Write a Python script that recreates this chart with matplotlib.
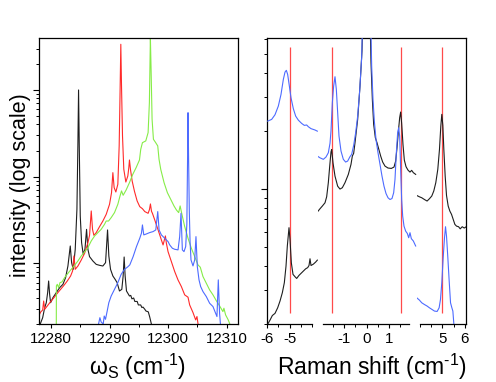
import numpy as np
import matplotlib
matplotlib.use('Agg')
import matplotlib.pyplot as plt
from matplotlib.ticker import FixedLocator, NullFormatter, LogLocator

plt.rcParams['font.family'] = ['Liberation Sans', 'DejaVu Sans']
plt.rcParams['mathtext.fontset'] = 'custom'
plt.rcParams['mathtext.rm'] = 'Liberation Sans'
plt.rcParams['mathtext.it'] = 'Liberation Sans:italic'
plt.rcParams['mathtext.bf'] = 'Liberation Sans:bold'
plt.rcParams['axes.unicode_minus'] = False

# ---------------- data: left panel (omega_S in cm^-1, log10 intensity) ----------------
black_x = [12278.07, 12278.53, 12278.87, 12279.15, 12279.38, 12279.55, 12279.72, 12279.89, 12280.29,
           12280.86, 12281.43, 12282.00, 12282.45, 12282.85, 12283.25, 12283.48, 12283.76, 12284.10,
           12284.39, 12284.56, 12284.67, 12284.79, 12284.96, 12285.19, 12285.47, 12285.76, 12286.04,
           12286.27, 12286.55, 12287.12, 12287.69, 12288.26, 12288.83, 12289.29, 12289.63, 12289.85,
           12290.14, 12290.54, 12290.93, 12291.27, 12291.67, 12292.07, 12292.30, 12292.47, 12292.64,
           12292.87, 12293.38, 12293.60, 12293.80, 12294.10, 12294.30, 12294.70, 12294.90, 12295.30,
           12295.50, 12295.70, 12296.00, 12296.20, 12296.60, 12296.85, 12297.13]
black_log = [0.292, 0.373, 0.488, 0.546, 0.662, 0.796, 0.642, 0.546, 0.604,
             0.662, 0.719, 0.758, 0.835, 0.969, 1.200, 1.008, 0.931, 1.161,
             1.623, 2.392, 3.000, 2.354, 1.546, 1.238, 1.104, 1.161, 1.392,
             1.161, 1.077, 1.027, 0.988, 0.977, 0.969, 1.008, 1.385, 1.085,
             0.931, 0.854, 0.815, 0.777, 0.681, 0.700, 0.854, 1.073, 0.854,
             0.681, 0.623, 0.630, 0.590, 0.600, 0.560, 0.560, 0.520, 0.520,
             0.490, 0.495, 0.470, 0.450, 0.440, 0.380, 0.300]

red_x = [12277.84, 12278.19, 12278.53, 12278.70, 12278.87, 12279.32, 12279.89, 12280.46, 12281.03,
         12281.60, 12282.17, 12282.74, 12283.31, 12283.65, 12283.88, 12284.10, 12284.56, 12285.13,
         12285.70, 12286.27, 12286.55, 12286.84, 12287.06, 12287.29, 12287.69, 12288.26, 12288.83,
         12289.40, 12289.97, 12290.31, 12290.54, 12290.76, 12291.05, 12291.39, 12291.62, 12291.79,
         12291.90, 12292.02, 12292.19, 12292.41, 12292.76, 12293.10, 12293.27, 12293.38, 12293.55,
         12293.84, 12294.24, 12294.69, 12295.14, 12295.60, 12296.00, 12296.57, 12296.80, 12296.97,
         12297.15, 12297.31, 12297.71, 12298.28, 12298.84, 12299.13, 12299.53, 12299.70, 12299.98,
         12300.55, 12301.12, 12301.69, 12302.26, 12302.83, 12303.40, 12303.68, 12304.25, 12304.71,
         12304.93, 12305.16]
red_log = [0.392, 0.438, 0.461, 0.565, 0.469, 0.508, 0.558, 0.604, 0.654,
           0.700, 0.746, 0.796, 0.854, 0.912, 1.085, 0.931, 0.969, 1.038,
           1.115, 1.238, 1.323, 1.604, 1.392, 1.323, 1.354, 1.423, 1.488,
           1.565, 1.681, 1.815, 2.046, 1.873, 1.823, 1.912, 2.354, 3.046,
           3.527, 3.046, 2.469, 2.085, 1.938, 2.008, 2.104, 2.192, 2.085,
           1.950, 1.830, 1.720, 1.654, 1.630, 1.597, 1.577, 1.620, 1.685,
           1.600, 1.577, 1.500, 1.385, 1.270, 1.212, 1.316, 1.231, 1.135,
           1.020, 0.905, 0.808, 0.732, 0.636, 0.609, 0.520, 0.432, 0.347,
           0.386, 0.278]

green_x = [12280.86, 12280.88, 12281.03, 12281.26, 12281.49, 12281.83, 12282.28, 12282.85, 12283.42,
           12283.99, 12284.56, 12285.13, 12285.70, 12286.27, 12286.84, 12287.41, 12287.98, 12288.54,
           12289.11, 12289.40, 12289.80, 12290.25, 12290.82, 12291.39, 12291.73, 12292.02, 12292.30,
           12292.81, 12293.38, 12293.95, 12294.52, 12295.09, 12295.31, 12295.60, 12296.17, 12296.57,
           12296.79, 12296.91, 12296.96, 12297.08, 12297.25, 12297.48, 12297.87, 12298.22, 12298.44,
           12298.73, 12299.30, 12299.87, 12300.44, 12301.00, 12301.41, 12301.80, 12302.05, 12302.32,
           12302.83, 12303.40, 12303.97, 12304.54, 12305.10, 12305.50, 12305.96, 12306.53, 12307.10,
           12307.67, 12308.23, 12308.80, 12309.37, 12309.54, 12309.83, 12310.28, 12310.68]
green_log = [0.290, 0.740, 0.758, 0.719, 0.777, 0.785, 0.835, 0.885, 0.931,
             0.977, 1.027, 1.085, 1.131, 1.181, 1.258, 1.315, 1.354, 1.392,
             1.450, 1.488, 1.488, 1.527, 1.585, 1.681, 1.769, 1.835, 1.785,
             1.846, 1.931, 2.027, 2.104, 2.192, 2.315, 2.392, 2.412, 2.508,
             2.854, 3.392, 3.600, 3.238, 2.662, 2.431, 2.392, 2.354, 2.200,
             2.085, 1.931, 1.815, 1.738, 1.662, 1.616, 1.585, 1.662, 1.577,
             1.424, 1.289, 1.174, 1.078, 0.982, 0.955, 0.847, 0.770, 0.693,
             0.636, 0.570, 0.509, 0.443, 0.482, 0.405, 0.347, 0.278]

blue_x = [12288.09, 12288.32, 12288.54, 12288.89, 12289.06, 12289.28, 12289.57, 12289.85, 12290.25,
          12290.82, 12291.39, 12291.96, 12292.53, 12293.10, 12293.44, 12294.01, 12294.58, 12295.14,
          12295.43, 12295.60, 12295.83, 12296.28, 12296.85, 12297.42, 12297.88, 12298.22, 12298.45,
          12298.84, 12299.41, 12299.98, 12300.27, 12300.72, 12301.12, 12301.69, 12301.97, 12302.20,
          12302.43, 12302.71, 12303.00, 12303.20, 12303.32, 12303.40, 12303.50, 12303.62, 12303.75,
          12303.91, 12304.25, 12304.54, 12304.76, 12304.99, 12305.28, 12305.56, 12305.96, 12306.53,
          12307.10, 12307.67, 12308.12, 12308.35, 12308.58, 12308.80, 12308.97]
blue_log = [0.300, 0.373, 0.323, 0.300, 0.392, 0.354, 0.450, 0.546, 0.623,
            0.700, 0.777, 0.873, 0.930, 0.960, 0.982, 1.078, 1.193, 1.289,
            1.347, 1.443, 1.328, 1.339, 1.355, 1.366, 1.385, 1.597, 1.385,
            1.328, 1.289, 1.251, 1.212, 1.174, 1.162, 1.155, 1.308, 1.577,
            1.155, 1.135, 1.193, 1.450, 2.200, 2.738, 2.200, 1.600, 1.250,
            1.039, 0.970, 1.039, 1.308, 0.962, 0.809, 0.732, 0.674, 0.616,
            0.539, 0.501, 0.424, 0.386, 0.809, 0.424, 0.278]

# ---------------- data: right panel (Raman shift in cm^-1, log10 intensity) ----------------
# segment 1 (around -5)
s1_black_x = [-5.983, -5.879, -5.774, -5.655, -5.535, -5.430, -5.326, -5.236, -5.161, -5.102, -5.057,
              -5.027, -4.982, -4.922, -4.847, -4.758, -4.683, -4.578, -4.429, -4.279, -4.190, -4.130,
              -4.085, -4.040, -3.936, -3.831, -3.756]
s1_black_log = [0.300, 0.321, 0.345, 0.356, 0.385, 0.420, 0.463, 0.515, 0.601, 0.705, 0.762,
                0.800, 0.739, 0.618, 0.558, 0.546, 0.537, 0.553, 0.570, 0.587, 0.593, 0.604,
                0.639, 0.604, 0.611, 0.622, 0.632]
s1_blue_x = [-5.983, -5.804, -5.655, -5.505, -5.386, -5.281, -5.206, -5.146, -5.087, -5.012, -4.937,
             -4.832, -4.728, -4.608, -4.459, -4.339, -4.235, -4.160, -4.040, -3.861, -3.756]
s1_blue_log = [1.352, 1.361, 1.385, 1.430, 1.490, 1.568, 1.606, 1.615, 1.594, 1.534, 1.473,
               1.416, 1.378, 1.357, 1.340, 1.330, 1.332, 1.323, 1.313, 1.306, 1.300]
# segment 2 (around 0)
s2_black_x = [-2.204, -2.085, -1.980, -1.861, -1.787, -1.713, -1.653, -1.594, -1.564, -1.504, -1.415,
              -1.296, -1.192, -1.088, -0.969, -0.820, -0.701, -0.641, -0.582, -0.522, -0.403, -0.299,
              -0.210, -0.165, 0.147, 0.192, 0.252, 0.311, 0.386, 0.460, 0.534, 0.624, 0.713, 0.817,
              0.951, 1.100, 1.219, 1.293, 1.353, 1.412, 1.472, 1.516, 1.561, 1.620, 1.680, 1.755,
              1.844, 1.933, 2.007, 2.082, 2.186]
s2_black_log = [0.881, 0.898, 0.912, 0.929, 0.960, 1.033, 1.116, 1.192, 1.205, 1.136, 1.067,
                1.015, 1.000, 1.007, 1.033, 1.076, 1.128, 1.171, 1.185, 1.240, 1.361, 1.534,
                1.715, 1.900, 1.900, 1.655, 1.465, 1.335, 1.266, 1.240, 1.209, 1.171, 1.140, 1.119,
                1.109, 1.107, 1.114, 1.145, 1.214, 1.295, 1.370, 1.399, 1.340, 1.231, 1.150, 1.116,
                1.098, 1.088, 1.097, 1.085, 1.076]
s2_blue_x = [-2.204, -2.085, -1.936, -1.817, -1.713, -1.638, -1.594, -1.534, -1.475, -1.415, -1.355,
             -1.296, -1.237, -1.147, -1.043, -0.939, -0.850, -0.745, -0.671, -0.582, -0.492, -0.403,
             -0.314, -0.225, -0.180, 0.177, 0.222, 0.281, 0.341, 0.415, 0.505, 0.594, 0.683, 0.772,
             0.862, 0.951, 1.040, 1.129, 1.204, 1.263, 1.323, 1.382, 1.427, 1.472, 1.516, 1.561,
             1.606, 1.665, 1.740, 1.814, 1.874, 1.933, 1.993, 2.082, 2.186]
s2_blue_log = [1.171, 1.162, 1.154, 1.166, 1.188, 1.237, 1.301, 1.447, 1.534, 1.582, 1.516,
               1.396, 1.275, 1.197, 1.154, 1.140, 1.145, 1.168, 1.180, 1.226, 1.292, 1.378,
               1.508, 1.680, 1.900, 1.900, 1.637, 1.465, 1.352, 1.257, 1.188, 1.128, 1.067, 1.015,
               0.977, 0.955, 0.946, 0.951, 0.981, 1.050, 1.188, 1.292, 1.318, 1.274, 1.102, 0.946,
               0.860, 0.808, 0.782, 0.770, 0.748, 0.774, 0.743, 0.731, 0.705]
# segment 3 (around +5)
s3_black_x = [3.843, 3.963, 4.069, 4.189, 4.309, 4.414, 4.519, 4.609, 4.699, 4.789, 4.864, 4.924,
              4.969, 5.015, 5.060, 5.120, 5.180, 5.255, 5.330, 5.405, 5.480, 5.555, 5.630, 5.720,
              5.795, 5.885, 5.975, 6.066]
s3_black_log = [0.967, 0.960, 0.955, 0.946, 0.938, 0.950, 0.964, 0.990, 1.033, 1.102, 1.205, 1.326,
                1.387, 1.330, 1.205, 1.067, 0.967, 0.912, 0.886, 0.869, 0.843, 0.817, 0.808, 0.805,
                0.794, 0.805, 0.798, 0.805]
s3_blue_x = [3.843, 3.963, 4.069, 4.189, 4.309, 4.414, 4.534, 4.639, 4.759, 4.849, 4.909, 4.969,
             5.030, 5.090, 5.135, 5.180, 5.240, 5.300, 5.360, 5.420, 5.465, 5.510]
s3_blue_log = [0.437, 0.425, 0.411, 0.402, 0.394, 0.385, 0.376, 0.368, 0.366, 0.385, 0.428, 0.515,
               0.644, 0.748, 0.805, 0.756, 0.644, 0.523, 0.411, 0.385, 0.368, 0.300]

raman_lines = [-5.0, -1.55, 1.55, 5.0]
raman_line_span = [2.29, 54.6]

left_xticks = [12280, 12290, 12300, 12310]
left_xminor = [12285, 12295, 12305]
seg_xticks = [[-6, -5], [-1, 0, 1], [5, 6]]
seg_xminor = [[-5.5, -4.5, -4.0], [-1.5, -0.5, 0.5, 1.5], [4.0, 4.5, 5.5]]

# ---------------- styling ----------------
BLACK = '#1e1e1e'
RED = '#ff2a2a'
GREEN = '#86ec48'
BLUE = '#4d6bff'
LW = 0.8
TICK_FS = 10.8
SPINE_LW = 0.9

W, H = 496, 382
fig = plt.figure(figsize=(W / 100, H / 100), dpi=100)


def rect(x0, x1, y0, y1):
    return [x0 / W, 1 - y1 / H, (x1 - x0) / W, (y1 - y0) / H]


def ylog_axis(ax, ylim):
    ax.set_yscale('log')
    ax.set_ylim(*ylim)
    ax.yaxis.set_major_locator(LogLocator(base=10))
    ax.yaxis.set_minor_locator(LogLocator(base=10, subs=np.arange(2, 10)))
    ax.yaxis.set_major_formatter(NullFormatter())
    ax.yaxis.set_minor_formatter(NullFormatter())
    ax.tick_params(axis='y', which='major', direction='out', length=4.2, width=0.8)
    ax.tick_params(axis='y', which='minor', direction='out', length=2.2, width=0.7)


# ---------------- left panel ----------------
axL = fig.add_axes(rect(38.7, 237.7, 38.3, 324))
for xs, ls, c in [(black_x, black_log, BLACK), (red_x, red_log, RED),
                  (green_x, green_log, GREEN), (blue_x, blue_log, BLUE)]:
    axL.plot(xs, 10 ** np.asarray(ls), color=c, lw=LW)
axL.set_xlim(12277.85, 12311.9)
ylog_axis(axL, (10 ** 0.3, 10 ** 3.596))
axL.xaxis.set_major_locator(FixedLocator(left_xticks))
axL.xaxis.set_minor_locator(FixedLocator(left_xminor))
axL.tick_params(axis='x', which='major', direction='out', length=2.6, width=0.8,
                labelsize=TICK_FS, pad=3.0)
axL.tick_params(axis='x', which='minor', direction='out', length=2.0, width=0.7)
for sp in axL.spines.values():
    sp.set_linewidth(SPINE_LW)

# ---------------- right panel ----------------
YR = (2.0, 60.4)
axR = fig.add_axes(rect(267.3, 466.0, 38.3, 324))
ylog_axis(axR, YR)
axR.set_xticks([])
axR.spines['bottom'].set_visible(False)
for sp in axR.spines.values():
    sp.set_linewidth(SPINE_LW)

seg_px = [(267.3, 317.5), (317.5, 416.7), (416.7, 466.0)]
seg_xlim = [(-6.0, -3.749), (-2.196, 2.232), (3.843, 6.054)]
seg_spine = [(-6.0, -4.0), (-1.94, 1.89), (4.0, 6.054)]
seg_data = [
    [(s1_black_x, s1_black_log, BLACK), (s1_blue_x, s1_blue_log, BLUE)],
    [(s2_black_x, s2_black_log, BLACK), (s2_blue_x, s2_blue_log, BLUE)],
    [(s3_black_x, s3_black_log, BLACK), (s3_blue_x, s3_blue_log, BLUE)],
]
for i in range(3):
    ax = fig.add_axes(rect(seg_px[i][0], seg_px[i][1], 38.3, 324))
    ax.patch.set_visible(False)
    ax.set_yscale('log')
    ax.set_ylim(*YR)
    ax.set_xlim(*seg_xlim[i])
    lines_here = [v for v in raman_lines if seg_xlim[i][0] < v < seg_xlim[i][1]]
    ax.vlines(lines_here, raman_line_span[0], raman_line_span[1], color='#ff4a4a', lw=0.9, zorder=1)
    for xs, ls, c in seg_data[i]:
        ax.plot(xs, 10 ** np.asarray(ls), color=c, lw=LW, zorder=2)
    for s in ['top', 'left', 'right']:
        ax.spines[s].set_visible(False)
    ax.spines['bottom'].set_bounds(*seg_spine[i])
    ax.spines['bottom'].set_linewidth(SPINE_LW)
    ax.tick_params(axis='y', which='both', left=False, labelleft=False)
    ax.xaxis.set_major_locator(FixedLocator(seg_xticks[i]))
    ax.xaxis.set_minor_locator(FixedLocator(seg_xminor[i]))
    ax.tick_params(axis='x', which='major', direction='out', length=2.6, width=0.8,
                   labelsize=TICK_FS, pad=3.0)
    ax.tick_params(axis='x', which='minor', direction='out', length=2.0, width=0.7)

# ---------------- labels ----------------
SUP = '$^{\\mathrm{\u20101}}$'
fig.text(21 / W, 1 - 185 / H, 'intensity (log scale)', rotation=90, ha='center', va='center',
         fontsize=15.5)
fig.text(138 / W, 1 - 375 / H, '$\\mathrm{\\omega_S}$ (cm' + SUP + ')', ha='center',
         va='baseline', fontsize=16.5)
fig.text(371.5 / W, 1 - 375 / H, 'Raman shift (cm' + SUP + ')', ha='center',
         va='baseline', fontsize=16.5)

fig.savefig('out.png', dpi=100)
